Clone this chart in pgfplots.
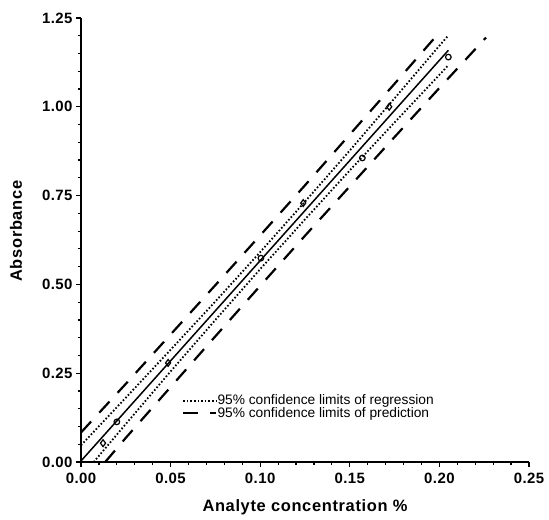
\documentclass[border=0pt]{standalone}
\usepackage{fontspec}
\setmainfont{Liberation Sans}
\newfontfamily\labfont[LetterSpace=4]{Liberation Sans}
\newfontfamily\tickfont[LetterSpace=3]{Liberation Sans}
\usepackage{pgfplots}
\pgfplotsset{compat=1.18}

\begin{document}
\begin{tikzpicture}
\path[use as bounding box] (-81bp,-58bp) rectangle (468bp,462bp);
\begin{axis}[
  at={(0,0)}, anchor=south west,
  scale only axis,
  width=448bp, height=444bp,
  xmin=0, xmax=0.25, ymin=0, ymax=1.25,
  axis x line=bottom, axis y line=left,
  axis line style={-, line width=1.5bp},
  xtick={0,0.05,0.10,0.15,0.20,0.25},
  ytick={0,0.25,0.5,0.75,1.0,1.25},
  minor x tick num=4, minor y tick num=4,
  tick align=outside,
  major tick length=5bp, minor tick length=3bp,
  tick style={black, line width=1.2bp},
  /pgf/number format/.cd, fixed, fixed zerofill, precision=2, assume math mode=true,
  /pgfplots/.cd,
  scaled x ticks=false, scaled y ticks=false,
  tick label style={font=\tickfont\bfseries\fontsize{15}{18}\selectfont},
  xticklabel style={yshift=-3bp},
  xlabel={Analyte concentration \%},
  ylabel={Absorbance},
  label style={font=\labfont\bfseries\fontsize{16.5}{20}\selectfont},
  x label style={at={(axis description cs:0.5,-0.101)}, anchor=center},
  y label style={at={(axis description cs:-0.145,0.52)}, anchor=center},
  legend style={draw=none, fill=none, at={(0.225,0.152)}, anchor=north west,
    font=\fontsize{13.8}{14}\selectfont, inner sep=0pt,
    nodes={inner sep=0.3bp}, row sep=0.5bp},
  legend cell align=left,
  legend image code/.code={\draw[#1] (0bp,0bp) -- (33bp,0bp);},
]
% regression line
\addplot[black, line width=1.5bp, forget plot] coordinates {(0,0.003) (0.205,1.159)};
% data points
\addplot[only marks, mark=o, mark size=2.8bp, mark options={line width=1.2bp}, forget plot]
  coordinates {(0.020,0.113) (0.1004,0.574) (0.157,0.856) (0.205,1.14)};
\addplot[only marks, mark=diamond, mark size=3.4bp, mark options={line width=1.2bp}, forget plot]
  coordinates {(0.0123,0.053) (0.0486,0.279) (0.124,0.729) (0.172,1.000)};
% 95% confidence limits of regression
\addplot[black, line width=1.8bp, dash pattern=on 1.6bp off 2bp] coordinates {
  (0,0.047) (0.025,0.181) (0.05,0.316) (0.075,0.452) (0.1,0.591) (0.125,0.733)
  (0.15,0.877) (0.175,1.024) (0.2,1.172) (0.205,1.201)};
\addlegendentry{95\% confidence limits of regression}
\addplot[black, line width=1.8bp, dash pattern=on 1.6bp off 2bp, forget plot] coordinates {
  (0.0071,0) (0.025,0.107) (0.05,0.255) (0.075,0.400) (0.1,0.543) (0.125,0.683)
  (0.15,0.821) (0.175,0.956) (0.2,1.090) (0.205,1.117)};
% 95% confidence limits of prediction
\addplot[black, line width=2.2bp, dash pattern=on 15bp off 12bp] coordinates {
  (0,0.083) (0.025,0.220) (0.05,0.359) (0.075,0.498) (0.1,0.638) (0.125,0.779)
  (0.15,0.922) (0.175,1.065) (0.197,1.192)};
\addlegendentry{95\% confidence limits of prediction}
\addplot[black, line width=2.2bp, dash pattern=on 15bp off 12bp, forget plot] coordinates {
  (0.0135,0) (0.025,0.068) (0.05,0.211) (0.075,0.354) (0.1,0.496) (0.125,0.637)
  (0.15,0.776) (0.175,0.915) (0.2,1.053) (0.226,1.195)};
\end{axis}
\end{tikzpicture}
\end{document}
